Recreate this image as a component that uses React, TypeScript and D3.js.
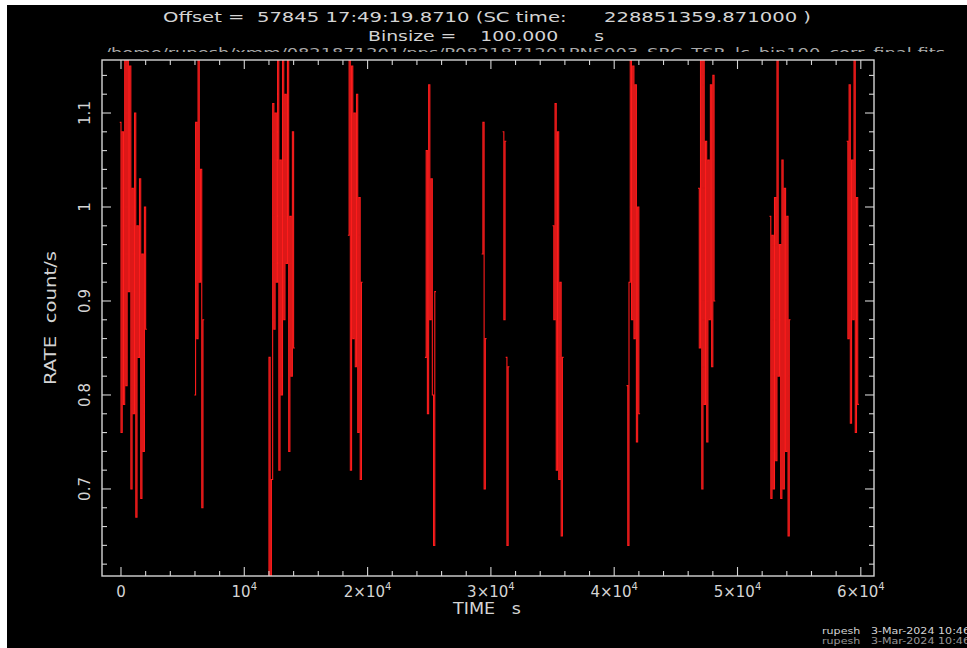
import React, { useEffect, useRef } from "react";
import { select, scaleLinear, line, curveStepAfter, range } from "d3";

const W = 967;
const H = 648;
const BIN = 100;

// light curve segments (start time in s, rates in count/s, 100 s bins)
const segStarts = [-100, 5950, 11900, 18400, 24650, 29250, 30950, 31200, 35000, 41000, 46800, 52600, 58850];
const segRates = [
  [1.09, 0.76, 1.08, 0.79, 1.16, 0.81, 1.17, 0.91, 1.15, 0.70, 1.02, 0.78, 1.10, 0.67, 0.98, 0.84, 1.03, 0.69, 0.95, 0.74, 1.0, 0.87],
  [0.80, 1.09, 0.86, 1.17, 0.92, 1.04, 0.68, 0.88],
  [0.55, 0.84, 0.60, 0.71, 1.11, 0.87, 1.10, 0.92, 1.16, 0.72, 1.05, 0.80, 1.17, 0.88, 1.12, 0.94, 1.16, 0.74, 0.99, 0.82, 1.08, 0.85],
  [0.97, 1.17, 0.72, 1.15, 0.86, 1.10, 0.83, 1.12, 0.76, 1.01, 0.71, 0.92],
  [0.84, 1.06, 0.78, 1.13, 0.88, 1.03, 0.80, 0.64, 0.91],
  [0.95, 1.09, 0.70, 0.86],
  [1.08, 0.88, 1.07],
  [0.84, 0.64, 0.83],
  [0.98, 0.88, 1.11, 0.72, 1.08, 0.71, 0.92, 0.65, 0.84],
  [0.81, 0.64, 0.92, 1.17, 0.88, 1.15, 0.86, 1.13, 0.75, 1.00, 0.78],
  [1.02, 0.85, 1.18, 0.70, 1.16, 0.79, 1.07, 0.75, 1.05, 0.88, 1.13, 0.83, 1.14, 0.90],
  [0.99, 0.69, 0.97, 0.70, 1.01, 0.73, 1.18, 0.82, 0.96, 0.69, 1.05, 0.70, 1.02, 0.74, 0.99, 0.65, 0.88],
  [1.07, 0.86, 1.13, 0.77, 1.05, 0.88, 1.17, 0.76, 1.01, 0.79],
];

const xMajor = [0, 10000, 20000, 30000, 40000, 50000, 60000];
const xLabels = ["0", "10", "2×10", "3×10", "4×10", "5×10", "6×10"];
const yMajor = [0.7, 0.8, 0.9, 1.0, 1.1];
const yLabels = ["0.7", "0.8", "0.9", "1", "1.1"];

const titleLine1 = "Offset =  57845 17:49:19.8710 (SC time:      228851359.871000 )";
const titleLine2 = "Binsize =    100.000      s";
const fileLine = "/home/rupesh/xmm/0821871201/pps/P0821871201PNS003_SRC_TSR_lc_bin100_corr_final.fits";
const footer = "rupesh   3-Mar-2024 10:46";

// keep runs of blanks as in the PGPLOT labels
const keep = (s: string) => s.replace(/ /g, "\u00A0");

export default function App() {
  const svgRef = useRef<SVGSVGElement>(null);

  useEffect(() => {
    const svg = select(svgRef.current);
    svg.selectAll("*").remove();

    const left = 102, right = 874, top = 60, bottom = 576;
    const xScale = scaleLinear().domain([-1540, 61070]).range([left, right]);
    const yScale = scaleLinear().domain([0.6074, 1.1564]).range([bottom, top]);
    const fg = "#d4d4d4";
    const font = "'DejaVu Sans', sans-serif";

    svg.append("rect").attr("width", W).attr("height", H).attr("fill", "#fff");
    svg.append("rect").attr("x", 7).attr("y", 5).attr("width", W - 7).attr("height", H - 5).attr("fill", "#000");

    const defs = svg.append("defs");
    defs.append("clipPath").attr("id", "plotclip")
      .append("rect").attr("x", left).attr("y", top).attr("width", right - left).attr("height", bottom - top);
    defs.append("clipPath").attr("id", "fileclip")
      .append("rect").attr("x", 0).attr("y", 46).attr("width", W).attr("height", 6);

    // data
    const lineGen = line<[number, number]>()
      .x(d => xScale(d[0]))
      .y(d => yScale(d[1]))
      .curve(curveStepAfter);
    const g = svg.append("g").attr("clip-path", "url(#plotclip)");
    segStarts.forEach((start, i) => {
      const rates = segRates[i];
      const pts: [number, number][] = rates.map((r, j) => [start + j * BIN, r]);
      pts.push([start + rates.length * BIN, rates[rates.length - 1]]);
      g.append("path").attr("d", lineGen(pts)).attr("fill", "none")
        .attr("stroke", "#ff1c1c").attr("stroke-width", 1.1);
    });

    // frame
    svg.append("rect").attr("x", left).attr("y", top).attr("width", right - left).attr("height", bottom - top)
      .attr("fill", "none").attr("stroke", fg).attr("stroke-width", 1.4);

    const ticks = svg.append("g").attr("stroke", fg).attr("stroke-width", 1.1);
    const xMinor = range(0, 61000, 2000).filter(v => !xMajor.includes(v));
    const yMinor = range(0.62, 1.15, 0.02).filter(v => !yMajor.some(m => Math.abs(m - v) < 1e-6));
    const addX = (vals: number[], len: number) => vals.forEach(v => {
      const x = xScale(v);
      ticks.append("line").attr("x1", x).attr("x2", x).attr("y1", bottom).attr("y2", bottom - len);
      ticks.append("line").attr("x1", x).attr("x2", x).attr("y1", top).attr("y2", top + len);
    });
    const addY = (vals: number[], len: number) => vals.forEach(v => {
      const y = yScale(v);
      ticks.append("line").attr("x1", left).attr("x2", left + len).attr("y1", y).attr("y2", y);
      ticks.append("line").attr("x1", right).attr("x2", right - len).attr("y1", y).attr("y2", y);
    });
    addX(xMajor, 9); addX(xMinor, 5);
    addY(yMajor, 9); addY(yMinor, 5);

    const text = svg.append("g").attr("fill", fg).attr("font-family", font);

    // x tick labels
    xMajor.forEach((v, i) => {
      const t = text.append("text").attr("x", xScale(v)).attr("y", 597).attr("font-size", 15).attr("text-anchor", "middle");
      t.append("tspan").text(xLabels[i]);
      if (i > 0) t.append("tspan").attr("dy", -7).attr("font-size", 10).text("4");
    });
    // y tick labels
    yMajor.forEach((v, i) => {
      text.append("text").attr("transform", `translate(90,${yScale(v)}) rotate(-90)`)
        .attr("font-size", 15).attr("text-anchor", "middle").text(yLabels[i]);
    });

    text.append("text").attr("x", 487).attr("y", 614).attr("font-size", 15).attr("text-anchor", "middle")
      .attr("textLength", 68).attr("lengthAdjust", "spacingAndGlyphs").text(keep("TIME   s"));
    text.append("text").attr("transform", "translate(56,318) rotate(-90)")
      .attr("font-size", 15).attr("text-anchor", "middle")
      .attr("textLength", 134).attr("lengthAdjust", "spacingAndGlyphs").text(keep("RATE  count/s"));

    text.append("text").attr("x", 163).attr("y", 22).attr("font-size", 14)
      .attr("textLength", 648).attr("lengthAdjust", "spacingAndGlyphs").text(keep(titleLine1));
    text.append("text").attr("x", 368).attr("y", 41).attr("font-size", 14)
      .attr("textLength", 236).attr("lengthAdjust", "spacingAndGlyphs").text(keep(titleLine2));
    text.append("text").attr("x", 105).attr("y", 57).attr("font-size", 13).attr("clip-path", "url(#fileclip)")
      .attr("opacity", 0.8).attr("textLength", 840).attr("lengthAdjust", "spacingAndGlyphs").text(fileLine);

    text.append("text").attr("x", 822).attr("y", 634).attr("font-size", 8.5)
      .attr("textLength", 148).attr("lengthAdjust", "spacingAndGlyphs").text(keep(footer));
    text.append("text").attr("x", 822).attr("y", 644).attr("font-size", 8.5).attr("opacity", 0.7)
      .attr("textLength", 148).attr("lengthAdjust", "spacingAndGlyphs").text(keep(footer));
  }, []);

  return (
    <svg ref={svgRef} width={W} height={H} style={{ position: "fixed", left: 0, top: 0 }} />
  );
}
